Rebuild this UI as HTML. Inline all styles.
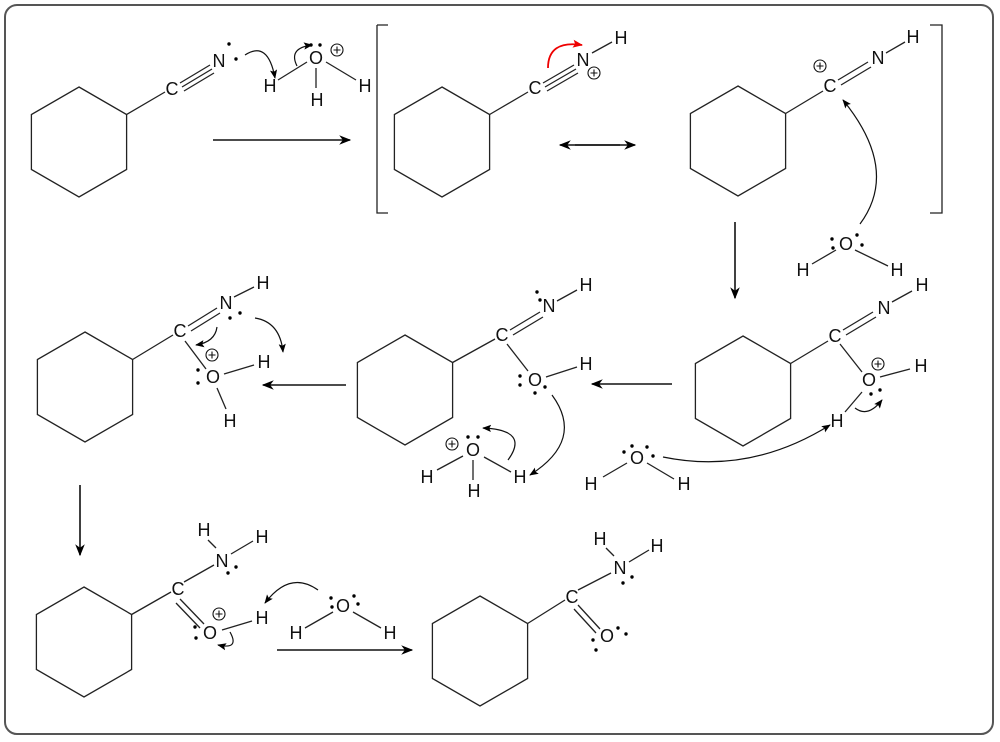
<!DOCTYPE html>
<html><head><meta charset="utf-8"><style>
html,body{margin:0;padding:0;background:#fff}
svg{display:block}
text{font-family:"Liberation Sans",sans-serif;font-size:18px;fill:#111;text-anchor:middle;dominant-baseline:central}
</style></head><body>
<svg width="1000" height="742" viewBox="0 0 1000 742" xmlns="http://www.w3.org/2000/svg">
<defs>
<marker id="ah" viewBox="0 0 10 10" refX="9" refY="5" markerWidth="9" markerHeight="9" orient="auto" markerUnits="userSpaceOnUse"><path d="M0,1 L10,5 L0,9 L2,5z" fill="#000"/></marker>
<marker id="ab" viewBox="0 0 10 10" refX="9" refY="5" markerWidth="14" markerHeight="12" orient="auto" markerUnits="userSpaceOnUse"><path d="M0,1 L10,5 L0,9 L3,5z" fill="#000"/></marker>
<marker id="ar" viewBox="0 0 10 10" refX="9" refY="5" markerWidth="10" markerHeight="10" orient="auto" markerUnits="userSpaceOnUse"><path d="M0,1 L10,5 L0,9 L2,5z" fill="#e00"/></marker>
</defs>
<rect x="5" y="5" width="988" height="729" rx="12" fill="none" stroke="#555" stroke-width="2"/>
<g fill="none" stroke="#222" stroke-width="1.3">
<polygon points="79,87 126.6,114.5 126.6,169.5 79,197 31.4,169.5 31.4,114.5"/>
<polygon points="442,87 489.6,114.5 489.6,169.5 442,197 394.4,169.5 394.4,114.5"/>
<polygon points="738,86 785.6,113.5 785.6,168.5 738,196 690.4,168.5 690.4,113.5"/>
<polygon points="743,336 790.6,363.5 790.6,418.5 743,446 695.4,418.5 695.4,363.5"/>
<polygon points="405,335 452.6,362.5 452.6,417.5 405,445 357.4,417.5 357.4,362.5"/>
<polygon points="85,332 132.6,359.5 132.6,414.5 85,442 37.4,414.5 37.4,359.5"/>
<polygon points="84,587 131.6,614.5 131.6,669.5 84,697 36.4,669.5 36.4,614.5"/>
<polygon points="480,596 527.6,623.5 527.6,678.5 480,706 432.4,678.5 432.4,623.5"/>
<line x1="126.6" y1="114.5" x2="165" y2="92"/>
<line x1="489.6" y1="114.5" x2="528" y2="92"/>
<line x1="785.6" y1="113.5" x2="823" y2="91"/>
<line x1="790.6" y1="363.5" x2="828" y2="341"/>
<line x1="452.6" y1="362.5" x2="495" y2="339"/>
<line x1="132.6" y1="359.5" x2="173" y2="335"/>
<line x1="131.6" y1="614.5" x2="171" y2="592"/>
<line x1="527.6" y1="623.5" x2="565" y2="600"/>
<line x1="180" y1="83" x2="210" y2="65"/><line x1="182" y1="87" x2="212" y2="69"/><line x1="184" y1="91" x2="214" y2="73"/>
<line x1="278" y1="80" x2="307" y2="62"/><line x1="316" y1="68" x2="316" y2="88"/><line x1="326" y1="62" x2="356" y2="80"/>
<line x1="543" y1="83" x2="574" y2="65"/><line x1="545" y1="87" x2="576" y2="69"/><line x1="547" y1="91" x2="578" y2="73"/>
<line x1="592" y1="53" x2="612" y2="42"/>
<line x1="838" y1="80" x2="868" y2="62"/><line x1="841" y1="85" x2="871" y2="67"/>
<line x1="886" y1="53" x2="905" y2="42"/>
<path d="M377,25 H388 M377,25 V213 H388 M930,25 H942 V213 H930"/>
<line x1="812" y1="264" x2="836" y2="250"/><line x1="855" y1="250" x2="888" y2="266"/>
<line x1="843" y1="330" x2="873" y2="312"/><line x1="846" y1="335" x2="876" y2="317"/>
<line x1="892" y1="302" x2="912" y2="291"/>
<line x1="840" y1="344" x2="862" y2="372"/>
<line x1="880" y1="377" x2="910" y2="369"/>
<line x1="862" y1="392" x2="845" y2="412"/>
<line x1="603" y1="477" x2="627" y2="463"/><line x1="647" y1="463" x2="674" y2="479"/>
<line x1="510" y1="330" x2="540" y2="312"/><line x1="513" y1="335" x2="543" y2="317"/>
<line x1="557" y1="301" x2="577" y2="290"/>
<line x1="507" y1="344" x2="528" y2="371"/>
<line x1="546" y1="377" x2="577" y2="367"/>
<line x1="437" y1="470" x2="463" y2="456"/><line x1="473" y1="460" x2="473" y2="480"/><line x1="484" y1="457" x2="511" y2="472"/>
<line x1="188" y1="326" x2="217" y2="308"/><line x1="191" y1="331" x2="220" y2="313"/>
<line x1="234" y1="297" x2="254" y2="287"/>
<line x1="185" y1="341" x2="206" y2="369"/>
<line x1="224" y1="374" x2="254" y2="365"/>
<line x1="217" y1="388" x2="226" y2="409"/>
<line x1="184" y1="582" x2="214" y2="565"/>
<line x1="216" y1="548" x2="208" y2="540"/><line x1="231" y1="554" x2="253" y2="541"/>
<line x1="180" y1="599" x2="204" y2="624"/><line x1="176" y1="603" x2="200" y2="628"/>
<line x1="222" y1="630" x2="252" y2="621"/>
<line x1="305" y1="628" x2="333" y2="612"/><line x1="353" y1="612" x2="381" y2="628"/>
<line x1="578" y1="590" x2="611" y2="573"/>
<line x1="614" y1="556" x2="606" y2="548"/><line x1="629" y1="562" x2="649" y2="550"/>
<line x1="578" y1="605" x2="600" y2="629"/><line x1="574" y1="609" x2="596" y2="633"/>
</g>
<g stroke="#111" stroke-width="1.6" fill="none">
<line x1="213" y1="140" x2="350" y2="140" marker-end="url(#ab)"/>
<line x1="575" y1="145" x2="635" y2="145" marker-end="url(#ab)"/>
<line x1="620" y1="145" x2="560" y2="145" marker-end="url(#ab)"/>
<line x1="735" y1="222" x2="735" y2="298" marker-end="url(#ab)"/>
<line x1="672" y1="384" x2="592" y2="384" marker-end="url(#ab)"/>
<line x1="346" y1="385" x2="263" y2="385" marker-end="url(#ab)"/>
<line x1="80" y1="485" x2="80" y2="555" marker-end="url(#ab)"/>
<line x1="277" y1="650" x2="412" y2="650" marker-end="url(#ab)"/>
</g>
<g stroke="#111" stroke-width="1.2" fill="none">
<path d="M245,55 Q268,40 275,78" marker-end="url(#ah)"/>
<path d="M297,66 Q288,48 312,45" marker-end="url(#ah)"/>
<path d="M860,224 Q900,170 843,100" marker-end="url(#ah)"/>
<path d="M663,457 Q750,475 830,425" marker-end="url(#ah)"/>
<path d="M855,408 Q868,418 882,400" marker-end="url(#ah)"/>
<path d="M552,395 Q585,440 530,475" marker-end="url(#ah)"/>
<path d="M508,460 Q530,430 483,428" marker-end="url(#ah)"/>
<path d="M255,318 Q280,322 283,352" marker-end="url(#ah)"/>
<path d="M217,327 Q215,342 196,345" marker-end="url(#ah)"/>
<path d="M318,590 Q290,570 265,603" marker-end="url(#ah)"/>
<path d="M230,632 Q240,650 218,645" marker-end="url(#ah)"/>
</g>
<path d="M548,68 Q548,40 582,45" stroke="#e00" stroke-width="1.8" fill="none" marker-end="url(#ar)"/>
<text x="172" y="89">C</text><text x="219" y="61">N</text>
<text x="316" y="58">O</text><text x="270" y="86">H</text><text x="317" y="100">H</text><text x="365" y="86">H</text>
<text x="535" y="88">C</text><text x="583" y="60">N</text><text x="621" y="38">H</text>
<text x="830" y="86">C</text><text x="878" y="58">N</text><text x="913" y="37">H</text>
<text x="846" y="244">O</text><text x="803" y="270">H</text><text x="897" y="270">H</text>
<text x="835" y="336">C</text><text x="884" y="308">N</text><text x="922" y="285">H</text>
<text x="869" y="380">O</text><text x="921" y="366">H</text><text x="837" y="421">H</text>
<text x="637" y="458">O</text><text x="591" y="484">H</text><text x="684" y="484">H</text>
<text x="502" y="335">C</text><text x="549" y="306">N</text><text x="586" y="285">H</text>
<text x="535" y="380">O</text><text x="586" y="364">H</text>
<text x="473" y="450">O</text><text x="427" y="477">H</text><text x="474" y="491">H</text><text x="520" y="477">H</text>
<text x="180" y="331">C</text><text x="226" y="303">N</text><text x="263" y="283">H</text>
<text x="213" y="377">O</text><text x="264" y="362">H</text><text x="230" y="421">H</text>
<text x="178" y="589">C</text><text x="222" y="561">N</text><text x="204" y="530">H</text><text x="262" y="537">H</text>
<text x="210" y="633">O</text><text x="262" y="618">H</text>
<text x="343" y="606">O</text><text x="296" y="633">H</text><text x="390" y="633">H</text>
<text x="572" y="597">C</text><text x="620" y="568">N</text><text x="600" y="539">H</text><text x="657" y="546">H</text>
<text x="607" y="636">O</text>
<g fill="none" stroke="#111" stroke-width="1.1">
<circle cx="337" cy="50" r="6"/><circle cx="594" cy="73" r="6"/><circle cx="820" cy="66" r="6"/>
<circle cx="878" cy="364" r="6"/><circle cx="452" cy="444" r="6"/><circle cx="212" cy="355" r="6"/>
<circle cx="219" cy="614" r="6"/>
<path d="M333.5,50h7M337,46.5v7 M590.5,73h7M594,69.5v7 M816.5,66h7M820,62.5v7 M874.5,364h7M878,360.5v7 M448.5,444h7M452,440.5v7 M208.5,355h7M212,351.5v7 M215.5,614h7M219,610.5v7"/>
</g>
<g fill="#000">
<circle cx="229" cy="44" r="1.7"/><circle cx="236" cy="59" r="1.7"/>
<circle cx="311" cy="45" r="1.7"/><circle cx="320" cy="45" r="1.7"/>
<circle cx="832" cy="239" r="1.7"/><circle cx="833" cy="248" r="1.7"/><circle cx="857" cy="235" r="1.7"/><circle cx="862" cy="245" r="1.7"/>
<circle cx="871" cy="394" r="1.7"/><circle cx="880" cy="390" r="1.7"/>
<circle cx="624" cy="452" r="1.7"/><circle cx="632" cy="446" r="1.7"/><circle cx="647" cy="447" r="1.7"/><circle cx="653" cy="456" r="1.7"/>
<circle cx="537" cy="292" r="1.7"/><circle cx="540" cy="300" r="1.7"/>
<circle cx="520" cy="376" r="1.7"/><circle cx="520" cy="385" r="1.7"/><circle cx="535" cy="393" r="1.7"/><circle cx="545" cy="387" r="1.7"/>
<circle cx="468" cy="437" r="1.7"/><circle cx="478" cy="437" r="1.7"/>
<circle cx="230" cy="318" r="1.7"/><circle cx="240" cy="313" r="1.7"/>
<circle cx="198" cy="370" r="1.7"/><circle cx="198" cy="383" r="1.7"/>
<circle cx="228" cy="573" r="1.7"/><circle cx="236" cy="567" r="1.7"/>
<circle cx="195" cy="627" r="1.7"/><circle cx="196" cy="638" r="1.7"/>
<circle cx="331" cy="598" r="1.7"/><circle cx="332" cy="607" r="1.7"/><circle cx="354" cy="596" r="1.7"/><circle cx="358" cy="604" r="1.7"/>
<circle cx="623" cy="583" r="1.7"/><circle cx="632" cy="577" r="1.7"/>
<circle cx="593" cy="640" r="1.7"/><circle cx="596" cy="650" r="1.7"/><circle cx="618" cy="628" r="1.7"/><circle cx="626" cy="634" r="1.7"/>
</g>
</svg>
</body></html>
